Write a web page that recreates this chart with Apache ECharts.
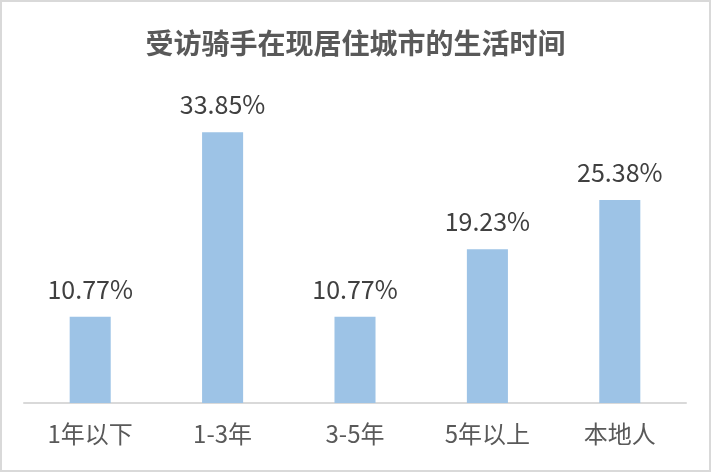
<!DOCTYPE html>
<html>
<head>
<meta charset="utf-8">
<script src="https://cdn.jsdelivr.net/npm/echarts@6/dist/echarts.min.js"></script>
<style>
  html, body { margin: 0; padding: 0; background: #fff; }
  #chart {
    width: 711px;
    height: 472px;
    box-sizing: border-box;
    border: 2px solid #d9d9d9;
  }
</style>
</head>
<body>
<div id="chart"></div>
<script>
const categories = ['1年以下', '1-3年', '3-5年', '5年以上', '本地人'];
const shares = [10.77, 33.85, 10.77, 19.23, 25.38];

const chart = echarts.init(document.getElementById('chart'));

chart.setOption({
  animation: false,
  title: {
    text: '受访骑手在现居住城市的生活时间',
    left: 'center',
    top: 22,
    textStyle: {
      fontFamily: 'Noto Sans CJK SC',
      fontSize: 28,
      fontWeight: 'bold',
      color: '#595959',
    },
  },
  grid: {
    left: 22,
    right: 23,
    top: 81,
    bottom: 67,
  },
  xAxis: {
    type: 'category',
    data: categories,
    axisTick: { show: false },
    axisLine: {
      lineStyle: { color: '#d9d9d9', width: 2 },
    },
    axisLabel: {
      margin: 19,
      fontFamily: 'Noto Sans CJK SC',
      fontSize: 24,
      color: '#595959',
    },
  },
  yAxis: {
    type: 'value',
    min: 0,
    max: 40,
    show: false,
    splitLine: { show: false },
  },
  series: [
    {
      type: 'bar',
      data: shares,
      barWidth: '31%',
      itemStyle: { color: '#9dc3e6' },
      label: {
        show: true,
        position: 'top',
        distance: 15,
        fontFamily: 'Noto Sans CJK SC',
        fontSize: 25,
        color: '#404040',
        formatter: (p) => p.value.toFixed(2) + '%',
      },
    },
  ],
});
</script>
</body>
</html>
